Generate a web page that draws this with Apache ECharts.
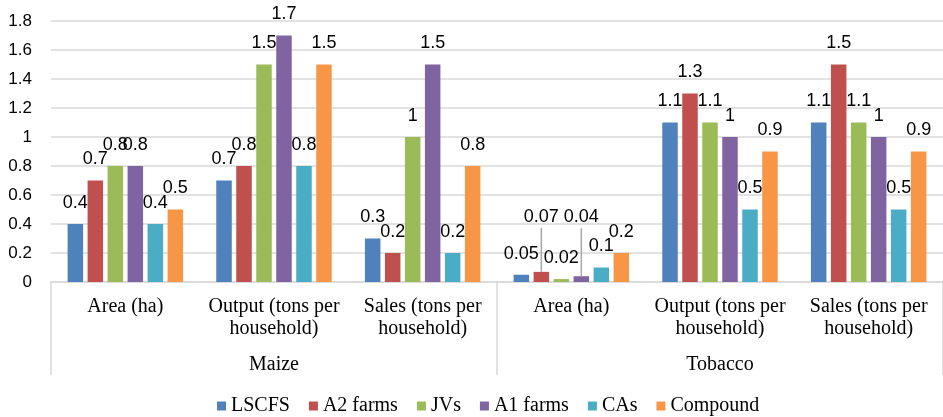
<!DOCTYPE html>
<html>
<head>
<meta charset="utf-8">
<script src="https://cdn.jsdelivr.net/npm/echarts@6/dist/echarts.min.js"></script>
<style>
html,body{margin:0;padding:0;background:#fff;}
#chart{width:943px;height:417px;}
</style>
</head>
<body>
<div id="chart"></div>
<script>
var categories = ['Area (ha)', 'Output (tons per\nhousehold)', 'Sales (tons per\nhousehold)',
                  'Area (ha)', 'Output (tons per\nhousehold)', 'Sales (tons per\nhousehold)'];
var groups = ['Maize', 'Tobacco'];
var seriesNames = ['LSCFS', 'A2 farms', 'JVs', 'A1 farms', 'CAs', 'Compound'];
var lscfs    = [0.4, 0.7, 0.3, 0.05, 1.1, 1.1];
var a2farms  = [0.7, 0.8, 0.2, 0.07, 1.3, 1.5];
var jvs      = [0.8, 1.5, 1.0, 0.02, 1.1, 1.1];
var a1farms  = [0.8, 1.7, 1.5, 0.04, 1.0, 1.0];
var cas      = [0.4, 0.8, 0.2, 0.1, 0.5, 0.5];
var compound = [0.5, 1.5, 0.8, 0.2, 0.9, 0.9];
var colors = ['#4F81BD', '#C0504D', '#9BBB59', '#8064A2', '#4BACC6', '#F79646'];
var allValues = [lscfs, a2farms, jvs, a1farms, cas, compound];
// labels lifted with a leader line: series index -> {dataIndex: leader length}
var lifted = {1: {3: 44}, 3: {3: 48}};

var chart = echarts.init(document.getElementById('chart'), null, {renderer: 'canvas'});

var series = allValues.map(function (vals, si) {
  var data = vals.map(function (v, di) {
    if (lifted[si] && lifted[si][di] !== undefined) {
      return {
        value: v,
        label: {
          distance: 0,
          formatter: '{v|{c}}\n{l|}',
          rich: {
            v: {fontFamily: 'Liberation Sans', fontSize: 18, color: '#000', lineHeight: 22},
            l: {width: 1.5, height: lifted[si][di], backgroundColor: '#A6A6A6'}
          }
        }
      };
    }
    return v;
  });
  return {
    name: seriesNames[si],
    type: 'bar',
    data: data,
    barWidth: 15.5,
    barGap: '29%',
    itemStyle: {color: colors[si]},
    label: {
      show: true,
      position: 'top',
      distance: 12,
      color: '#000',
      fontFamily: 'Liberation Sans',
      fontSize: 18
    }
  };
});

chart.setOption({
  animation: false,
  color: colors,
  grid: {left: 51, right: -4, top: 21, bottom: 135},
  legend: {
    data: seriesNames,
    left: 212,
    top: 391,
    icon: 'rect',
    itemWidth: 9,
    itemHeight: 9,
    itemGap: 19,
    textStyle: {fontFamily: 'Liberation Serif', fontSize: 20, color: '#000'}
  },
  xAxis: [
    {
      type: 'category',
      data: categories,
      position: 'bottom',
      axisLine: {show: true, lineStyle: {color: '#D9D9D9', width: 1.5}},
      axisTick: {show: false},
      axisLabel: {
        interval: 0,
        margin: 14,
        color: '#000',
        fontFamily: 'Liberation Serif',
        fontSize: 20,
        lineHeight: 22
      }
    },
    {
      type: 'category',
      data: groups,
      position: 'bottom',
      offset: 93,
      axisLine: {show: false},
      axisTick: {show: true, inside: true, length: 93, lineStyle: {color: '#D9D9D9', width: 1.5}},
      axisLabel: {
        inside: true,
        margin: 0,
        color: '#000',
        fontFamily: 'Liberation Serif',
        fontSize: 20,
        lineHeight: 20
      }
    }
  ],
  yAxis: {
    type: 'value',
    min: 0,
    max: 1.8,
    interval: 0.2,
    axisLine: {show: false},
    axisTick: {show: false},
    splitLine: {lineStyle: {color: '#D9D9D9', width: 1.5}},
    axisLabel: {
      margin: 19,
      color: '#000',
      fontFamily: 'Liberation Sans',
      fontSize: 17
    }
  },
  series: series
});
</script>
</body>
</html>
